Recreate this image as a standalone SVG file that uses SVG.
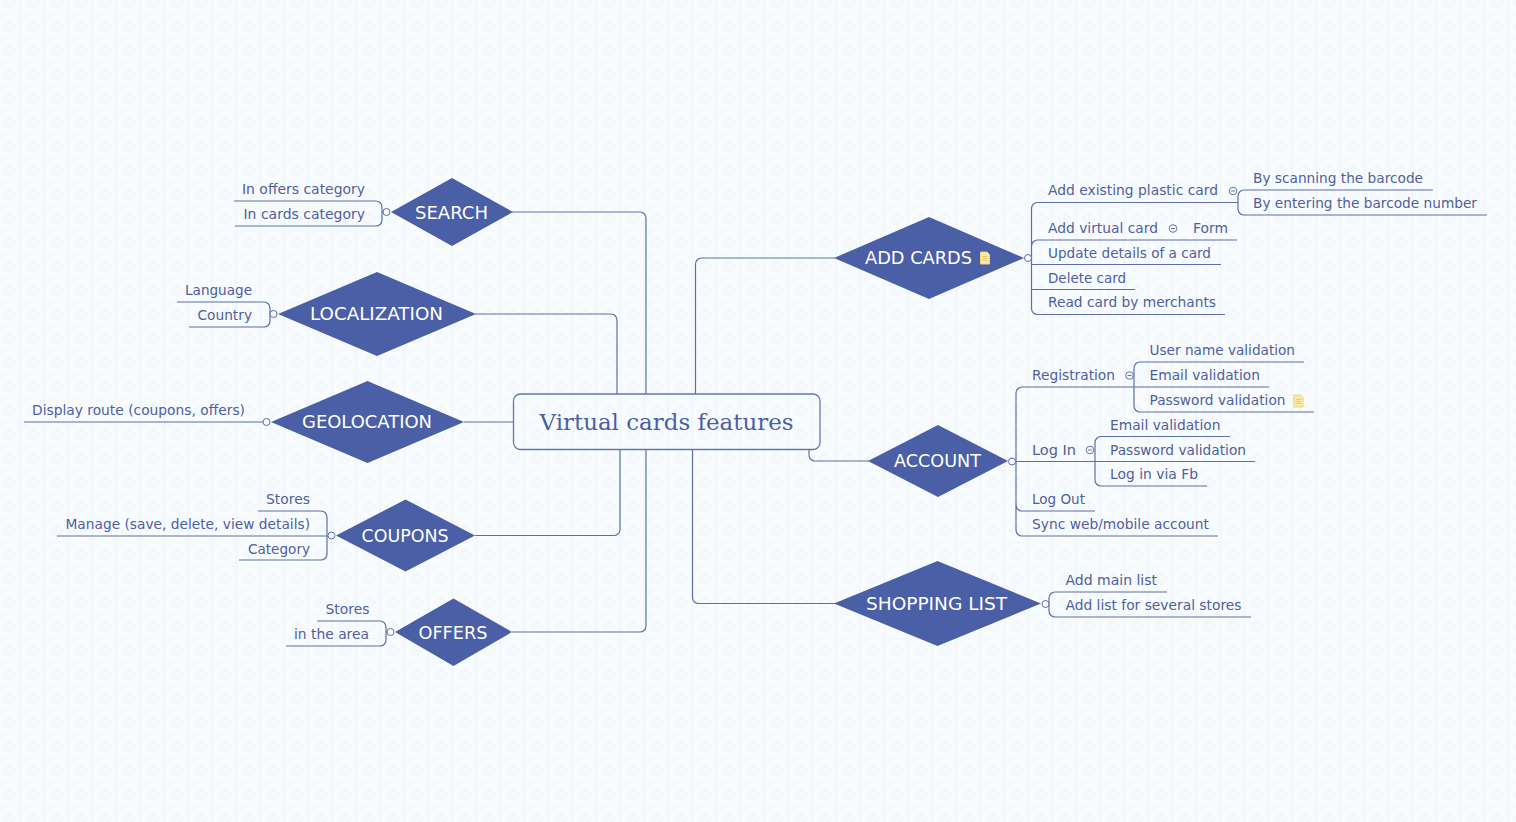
<svg xmlns="http://www.w3.org/2000/svg" width="1516" height="822" viewBox="0 0 1516 822">
<style>
.c{fill:none;stroke:#5d6fa8;stroke-width:1.2}
.d{fill:#4a5fa5}
.t{font-family:"DejaVu Sans",sans-serif;font-size:13.800px;fill:#4f5f9f}
.h{font-family:"DejaVu Sans",sans-serif;font-size:18px;fill:#fff;text-anchor:middle}
.m{fill:#f8fafd;stroke:#5d6fa8;stroke-width:1}
.k{fill:none;stroke:#66769f;stroke-width:1}
.n{fill:#fbe9a8;stroke:#f0d27a;stroke-width:1}
</style>
<defs>
<pattern id="bg" width="24" height="24" patternUnits="userSpaceOnUse" y="-10">
<rect width="24" height="24" fill="#f9fcfe"/>
<path d="M20.500 0V24M0 0H24" fill="none" stroke="#f1f6fa" stroke-width="1.800"/>
<path d="M8.500 6.500L14.500 12.500L8.500 18.500L2.500 12.500Z" fill="none" stroke="#f3f7fb" stroke-width="1.800"/>
<path d="M8.500 10.500L10.500 12.500L8.500 14.500L6.500 12.500Z" fill="#f3f7fb"/>
<path d="M-1 3H2M15 3H18M-1 22H2M15 22H18M-2 3V6M-2 19V22M18 3V6M18 19V22" fill="none" stroke="#f3f7fb" stroke-width="1"/>
</pattern>
<g id="note"><path class="n" d="M-4.500-6H2L4.500-3.500V6H-4.500Z"/><path d="M-2.500-1.500H2.500M-2.500 .5H2.500M-2.500 2.500H2.500" stroke="#e0bd5e" stroke-width=".7"/></g>
</defs>
<rect width="1516" height="822" fill="url(#bg)"/>
<g id="connectors">
<path class="c" d="M512 212H640a6 6 0 0 1 6 6V394"/>
<path class="c" d="M475 314H611a6 6 0 0 1 6 6V394"/>
<path class="c" d="M464 422H513"/>
<path class="c" d="M475 535.500H614a6 6 0 0 0 6-6V449"/>
<path class="c" d="M512 632H640a6 6 0 0 0 6-6V449"/>
<path class="c" d="M835 258H701.500a6 6 0 0 0-6 6V394"/>
<path class="c" d="M869 461H815a6 6 0 0 1-6-6V449"/>
<path class="c" d="M835 603.500H698.500a6 6 0 0 1-6-6V449"/>
<path class="c" d="M234 201H376a6 6 0 0 1 6 6V220a6 6 0 0 1-6 6H235"/>
<path class="c" d="M382 212H386"/>
<path class="c" d="M177 302H264a6 6 0 0 1 6 6V321a6 6 0 0 1-6 6H189"/>
<path class="c" d="M270 314H274"/>
<path class="c" d="M24 422H267"/>
<path class="c" d="M258 511H321a6 6 0 0 1 6 6V554a6 6 0 0 1-6 6H239"/>
<path class="c" d="M57 536H331"/>
<path class="c" d="M317 621H380a6 6 0 0 1 6 6V640a6 6 0 0 1-6 6H286"/>
<path class="c" d="M386 632H390"/>
<path class="c" d="M1238 202.500H1037.500a6 6 0 0 0-6 6V308.500a6 6 0 0 0 6 6H1225"/>
<path class="c" d="M1031.500 246a6 6 0 0 1 6-6H1237"/>
<path class="c" d="M1032 264.500H1221"/>
<path class="c" d="M1032 258H1028M1032 289.500H1135"/>
<path class="c" d="M1433 190H1244a6 6 0 0 0-6 6V209a6 6 0 0 0 6 6H1487"/>
<path class="c" d="M1135 387H1022a6 6 0 0 0-6 6V530a6 6 0 0 0 6 6H1218"/>
<path class="c" d="M1016 461.500H1255"/>
<path class="c" d="M1016 505a6 6 0 0 0 6 6H1095"/>
<path class="c" d="M1304 362H1140a6 6 0 0 0-6 6V406a6 6 0 0 0 6 6H1314"/>
<path class="c" d="M1230 436.500H1101a6 6 0 0 0-6 6V480a6 6 0 0 0 6 6H1207"/>
<path class="c" d="M1135 387H1269"/>
<path class="c" d="M1167 592H1055a6 6 0 0 0-6 6V611a6 6 0 0 0 6 6H1251"/>
<path class="c" d="M1049 604H1045"/>
</g>
<g id="root"><rect x="513.500" y="394" width="306.500" height="55.500" rx="7" fill="none" stroke="#6478ad" stroke-width="1.300"/>
<text x="666.500" y="430" font-family="DejaVu Serif,serif" font-size="23" fill="#4a5fa5" text-anchor="middle" textLength="254" lengthAdjust="spacingAndGlyphs">Virtual cards features</text></g>
<g id="search"><path class="d" d="M391 212L452 178L513 212L452 246Z"/><text class="h" x="451.500" y="218.500" textLength="73" lengthAdjust="spacingAndGlyphs">SEARCH</text><circle class="m" cx="386.500" cy="212" r="3.500"/>
<text class="t" x="242" y="194" textLength="123" lengthAdjust="spacingAndGlyphs">In offers category</text><text class="t" x="243.500" y="219" textLength="121.500" lengthAdjust="spacingAndGlyphs">In cards category</text></g>
<g id="localization"><path class="d" d="M278 314L377 272L476 314L377 356Z"/><text class="h" x="376.500" y="320" textLength="133" lengthAdjust="spacingAndGlyphs">LOCALIZATION</text><circle class="m" cx="273.500" cy="314" r="3.500"/>
<text class="t" x="185" y="295" textLength="67" lengthAdjust="spacingAndGlyphs">Language</text><text class="t" x="197.500" y="320" textLength="54.500" lengthAdjust="spacingAndGlyphs">Country</text></g>
<g id="geolocation"><path class="d" d="M271 422L367.500 381L464 422L367.500 463Z"/><text class="h" x="367" y="428" textLength="130" lengthAdjust="spacingAndGlyphs">GEOLOCATION</text><circle class="m" cx="266.500" cy="422" r="3.500"/>
<text class="t" x="32" y="415" textLength="213" lengthAdjust="spacingAndGlyphs">Display route (coupons, offers)</text></g>
<g id="coupons"><path class="d" d="M336 535.500L405.500 499.500L475 535.500L405.500 571.500Z"/><text class="h" x="405" y="542" textLength="87" lengthAdjust="spacingAndGlyphs">COUPONS</text><circle class="m" cx="331.500" cy="535.500" r="3.500"/>
<text class="t" x="266" y="504" textLength="44" lengthAdjust="spacingAndGlyphs">Stores</text><text class="t" x="65.500" y="529" textLength="244.500" lengthAdjust="spacingAndGlyphs">Manage (save, delete, view details)</text><text class="t" x="248" y="554" textLength="62" lengthAdjust="spacingAndGlyphs">Category</text></g>
<g id="offers"><path class="d" d="M395 632L453.500 598.500L512 632L453.500 666Z"/><text class="h" x="453" y="638.500" textLength="69" lengthAdjust="spacingAndGlyphs">OFFERS</text><circle class="m" cx="390.500" cy="632" r="3.500"/>
<text class="t" x="325.500" y="614" textLength="44" lengthAdjust="spacingAndGlyphs">Stores</text><text class="t" x="294" y="639" textLength="75" lengthAdjust="spacingAndGlyphs">in the area</text></g>
<g id="add-cards"><path class="d" d="M834 258L929 217L1024 258L929 299Z"/><text class="h" x="918.500" y="264" textLength="107" lengthAdjust="spacingAndGlyphs">ADD CARDS</text><use href="#note" x="985" y="258"/><circle class="m" cx="1028" cy="258" r="3.500"/>
<text class="t" x="1048" y="195" textLength="170" lengthAdjust="spacingAndGlyphs">Add existing plastic card</text><circle class="k" cx="1233" cy="191" r="3.800"/><path class="k" d="M1231 191H1235"/>
<text class="t" x="1253" y="183" textLength="170" lengthAdjust="spacingAndGlyphs">By scanning the barcode</text><text class="t" x="1253" y="208" textLength="224" lengthAdjust="spacingAndGlyphs">By entering the barcode number</text>
<text class="t" x="1048" y="233" textLength="110" lengthAdjust="spacingAndGlyphs">Add virtual card</text><circle class="k" cx="1173" cy="228.500" r="3.800"/><path class="k" d="M1171 228.500H1175"/><text class="t" x="1193" y="233" textLength="35" lengthAdjust="spacingAndGlyphs">Form</text>
<text class="t" x="1048" y="258" textLength="163" lengthAdjust="spacingAndGlyphs">Update details of a card</text><text class="t" x="1048" y="283" textLength="78" lengthAdjust="spacingAndGlyphs">Delete card</text><text class="t" x="1048" y="307" textLength="168" lengthAdjust="spacingAndGlyphs">Read card by merchants</text></g>
<g id="account"><path class="d" d="M868 461L938 425L1008 461L938 497Z"/><text class="h" x="937.500" y="467" textLength="87" lengthAdjust="spacingAndGlyphs">ACCOUNT</text><circle class="m" cx="1012" cy="461.500" r="3.500"/>
<text class="t" x="1032" y="380" textLength="83" lengthAdjust="spacingAndGlyphs">Registration</text><circle class="k" cx="1129.500" cy="375.500" r="3.800"/><path class="k" d="M1127.500 375.500H1131.500"/>
<text class="t" x="1149.500" y="355" textLength="145.500" lengthAdjust="spacingAndGlyphs">User name validation</text><text class="t" x="1149.500" y="380" textLength="110.500" lengthAdjust="spacingAndGlyphs">Email validation</text><text class="t" x="1149.500" y="405" textLength="136" lengthAdjust="spacingAndGlyphs">Password validation</text><use href="#note" x="1298.500" y="401"/>
<text class="t" x="1032" y="455" textLength="44" lengthAdjust="spacingAndGlyphs">Log In</text><circle class="k" cx="1090" cy="450" r="3.800"/><path class="k" d="M1088 450H1092"/>
<text class="t" x="1110" y="430" textLength="110.500" lengthAdjust="spacingAndGlyphs">Email validation</text><text class="t" x="1110" y="455" textLength="136" lengthAdjust="spacingAndGlyphs">Password validation</text><text class="t" x="1110" y="479" textLength="88" lengthAdjust="spacingAndGlyphs">Log in via Fb</text>
<text class="t" x="1032" y="504" textLength="53" lengthAdjust="spacingAndGlyphs">Log Out</text><text class="t" x="1032" y="529" textLength="177" lengthAdjust="spacingAndGlyphs">Sync web/mobile account</text></g>
<g id="shopping-list"><path class="d" d="M834 603.500L937.500 561L1041 603.500L937.500 646Z"/><text class="h" x="936.500" y="610" textLength="141" lengthAdjust="spacingAndGlyphs">SHOPPING LIST</text><circle class="m" cx="1045.500" cy="604" r="3.500"/>
<text class="t" x="1065.500" y="585" textLength="91.500" lengthAdjust="spacingAndGlyphs">Add main list</text><text class="t" x="1065.500" y="610" textLength="176" lengthAdjust="spacingAndGlyphs">Add list for several stores</text></g>
</svg>
